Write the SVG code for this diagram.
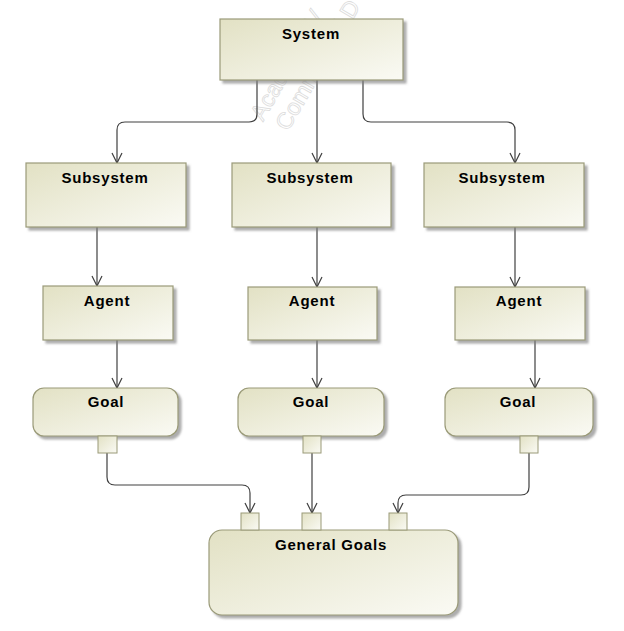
<svg xmlns="http://www.w3.org/2000/svg" width="624" height="631" viewBox="0 0 624 631">
<style>
.box{fill:url(#g);stroke:#9a9a78;stroke-width:1.2;filter:url(#sh)}
.port{fill:url(#g);stroke:#9a9a78;stroke-width:1}
.lbl{font-family:"Liberation Sans",Arial,sans-serif;font-size:15px;font-weight:bold;fill:#000;text-anchor:middle;letter-spacing:0.8px}
.wm{font-family:"Liberation Sans",Arial,sans-serif;font-size:23px;fill:none;stroke:#dcdcdc;stroke-width:0.8}
.ln{fill:none;stroke:#404040;stroke-width:1.2}
</style>
<defs>
<linearGradient id="g" x1="0" y1="0" x2="1" y2="1">
<stop offset="0" stop-color="#e2e1c4"/>
<stop offset="1" stop-color="#fafaf4"/>
</linearGradient>
<filter id="sh" x="-10%" y="-10%" width="130%" height="140%">
<feDropShadow dx="3" dy="3" stdDeviation="1.2" flood-color="#808080" flood-opacity="0.65"/>
</filter>
<marker id="arr" markerWidth="12" markerHeight="12" viewBox="0 0 12 12" refX="11" refY="6" orient="auto" markerUnits="userSpaceOnUse">
<path d="M1,1 L11,6 L1,11" fill="none" stroke="#404040" stroke-width="1.2"/>
</marker>
</defs>
<rect width="624" height="631" fill="#fff"/>
<g id="watermark">
<text class="wm" transform="translate(263,122) rotate(-60)">Academic V</text>
<text class="wm" transform="translate(288,132) rotate(-60)">Commercial D</text>
</g>
<g id="connectors">
<path class="ln" d="M257,80 V114 Q257,122 249,122 H125 Q117,122 117,130 V163" marker-end="url(#arr)"/>
<path class="ln" d="M317,80 V163" marker-end="url(#arr)"/>
<path class="ln" d="M363,80 V114 Q363,122 371,122 H507 Q515,122 515,130 V163" marker-end="url(#arr)"/>
<path class="ln" d="M97,227 V286" marker-end="url(#arr)"/>
<path class="ln" d="M317,227 V287" marker-end="url(#arr)"/>
<path class="ln" d="M515,227 V287" marker-end="url(#arr)"/>
<path class="ln" d="M117,340 V388" marker-end="url(#arr)"/>
<path class="ln" d="M317,340 V388" marker-end="url(#arr)"/>
<path class="ln" d="M535,340 V388" marker-end="url(#arr)"/>
<path class="ln" d="M107,453 V477 Q107,485 115,485 H242 Q250,485 250,493 V513" marker-end="url(#arr)"/>
<path class="ln" d="M312,453 V513" marker-end="url(#arr)"/>
<path class="ln" d="M529,453 V487 Q529,495 521,495 H406 Q398,495 398,503 V513" marker-end="url(#arr)"/>
</g>
<g id="system">
<rect class="box" x="220" y="19" width="183" height="61"/>
<text class="lbl" x="311" y="39">System</text>
</g>
<g id="subsystem1">
<rect class="box" x="26" y="163" width="160" height="64"/>
<text class="lbl" x="105" y="183">Subsystem</text>
</g>
<g id="subsystem2">
<rect class="box" x="232" y="163" width="159" height="64"/>
<text class="lbl" x="310" y="183">Subsystem</text>
</g>
<g id="subsystem3">
<rect class="box" x="424" y="163" width="160" height="64"/>
<text class="lbl" x="502" y="183">Subsystem</text>
</g>
<g id="agent1">
<rect class="box" x="43" y="286" width="130" height="54"/>
<text class="lbl" x="107" y="306">Agent</text>
</g>
<g id="agent2">
<rect class="box" x="248" y="287" width="129" height="53"/>
<text class="lbl" x="312" y="306">Agent</text>
</g>
<g id="agent3">
<rect class="box" x="455" y="287" width="130" height="53"/>
<text class="lbl" x="519" y="306">Agent</text>
</g>
<g id="goal1">
<rect class="box" x="33" y="388" width="145" height="48" rx="11"/>
<text class="lbl" x="106" y="407">Goal</text>
<rect class="port" x="98" y="436" width="19" height="17"/>
</g>
<g id="goal2">
<rect class="box" x="238" y="388" width="146" height="48" rx="11"/>
<text class="lbl" x="311" y="407">Goal</text>
<rect class="port" x="303" y="436" width="18" height="17"/>
</g>
<g id="goal3">
<rect class="box" x="445" y="388" width="148" height="48" rx="11"/>
<text class="lbl" x="518" y="407">Goal</text>
<rect class="port" x="520" y="436" width="18" height="17"/>
</g>
<g id="generalGoals">
<rect class="box" x="209" y="530" width="249" height="85" rx="13"/>
<text class="lbl" x="331" y="550">General Goals</text>
<rect class="port" x="241" y="513" width="18" height="17"/>
<rect class="port" x="302" y="513" width="19" height="17"/>
<rect class="port" x="389" y="513" width="18" height="17"/>
</g>
</svg>
